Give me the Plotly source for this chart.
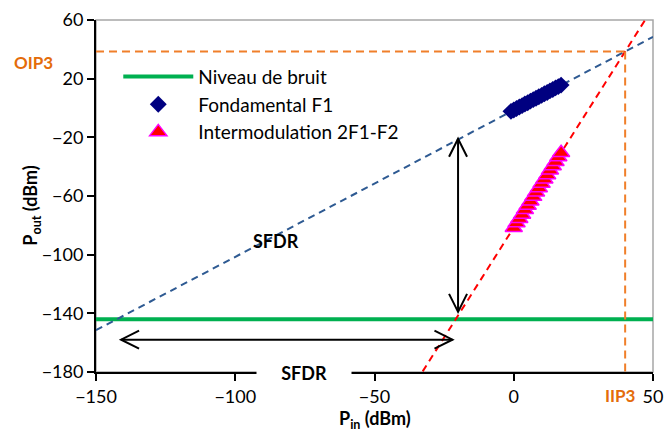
import plotly.graph_objects as go

# Measured two-tone test: fundamental and third-order intermodulation products
fund_pin = [-1, 0, 1, 2, 3, 4, 5, 6, 7, 8, 9, 10, 11, 12, 13, 14, 15, 16, 17]
fund_pout = [-2.3, -1.4, -0.3, 0.7, 1.6, 2.7, 3.6, 4.7, 5.7, 6.6, 7.7, 8.6, 9.7,
             10.6, 11.7, 12.6, 13.7, 14.6, 15.6]

im3_pin = [0, 1, 2, 3, 4, 5, 6, 7, 8, 9, 10, 11, 12, 13, 14, 15, 16, 17]
im3_pout = [-81.6, -78.4, -75.5, -72.6, -69.4, -66.5, -63.6, -60.4, -57.5, -54.6,
            -51.4, -48.5, -45.6, -42.4, -39.5, -36.6, -33.4, -30.5]

# Noise floor
noise_pin = [-150, 50]
noise_pout = [-144, -144]

# Extrapolated asymptotes (slope 1 and slope 3)
fund_line_pin = [-150, 50]
fund_line_pout = [-151.5, 48.5]
im3_line_pin = [-35, 50]
im3_line_pout = [-186.5, 68.5]

# Third-order intercept point
iip3 = 40
oip3 = 38.5

# SFDR arrows (input-referred and output-referred)
sfdr_in_y = -158
sfdr_in_x = [-141, -22]
sfdr_out_x = -20
sfdr_out_y = [-21, -139]

x_range = [-150, 50]
y_range = [-180, 60]
x_ticks = [-150, -100, -50, 0, 50]
y_ticks = [-180, -140, -100, -60, -20, 20, 60]

W, H = 666, 432
M = dict(l=96, r=13, t=20, b=60)
FONT = "Lato"
ORANGE = "#E46C0A"

fig = go.Figure()

fig.add_trace(go.Scatter(x=noise_pin, y=noise_pout, mode="lines",
                         name="Niveau de bruit",
                         line=dict(color="#00B050", width=4)))
fig.add_trace(go.Scatter(x=fund_line_pin, y=fund_line_pout, mode="lines",
                         showlegend=False,
                         line=dict(color="#2E5A92", width=2, dash="7px,5px")))
fig.add_trace(go.Scatter(x=im3_line_pin, y=im3_line_pout, mode="lines",
                         showlegend=False,
                         line=dict(color="#FF0000", width=2, dash="7px,5px")))
fig.add_trace(go.Scatter(x=[x_range[0], iip3], y=[oip3, oip3], mode="lines",
                         showlegend=False,
                         line=dict(color="#F07F2A", width=2, dash="8px,5px")))
fig.add_trace(go.Scatter(x=[iip3, iip3], y=[oip3, y_range[0]], mode="lines",
                         showlegend=False,
                         line=dict(color="#F07F2A", width=2, dash="8px,5px")))
fig.add_trace(go.Scatter(x=fund_pin, y=fund_pout, mode="markers",
                         name="Fondamental F1",
                         marker=dict(symbol="diamond", size=13, color="#000080",
                                     line=dict(width=0))))
fig.add_trace(go.Scatter(x=im3_pin, y=im3_pout, mode="markers",
                         name="Intermodulation 2F1-F2",
                         marker=dict(symbol="triangle-up", size=15, color="#FF0000",
                                     line=dict(color="#FF00FF", width=1.5))))

# pixel -> data unit conversion for arrow heads
plot_w = W - M["l"] - M["r"]
plot_h = H - M["t"] - M["b"]
px_x = plot_w / (x_range[1] - x_range[0])
px_y = plot_h / (y_range[1] - y_range[0])
head_len, head_half = 18, 9

shapes = []
arrow_line = dict(color="black", width=2)
# horizontal double arrow
x0, x1 = sfdr_in_x
shapes.append(dict(type="line", xref="x", yref="y", x0=x0, x1=x1,
                   y0=sfdr_in_y, y1=sfdr_in_y, line=arrow_line))
for tip, d in ((x0, 1), (x1, -1)):
    bx = tip + d * head_len / px_x
    shapes.append(dict(type="path", xref="x", yref="y", line=arrow_line,
                       path=f"M {bx},{sfdr_in_y + head_half / px_y} L {tip},{sfdr_in_y} "
                            f"L {bx},{sfdr_in_y - head_half / px_y}"))
# vertical double arrow
y0, y1 = sfdr_out_y
shapes.append(dict(type="line", xref="x", yref="y", x0=sfdr_out_x, x1=sfdr_out_x,
                   y0=y0, y1=y1, line=arrow_line))
for tip, d in ((y0, -1), (y1, 1)):
    by = tip + d * head_len / px_y
    shapes.append(dict(type="path", xref="x", yref="y", line=arrow_line,
                       path=f"M {sfdr_out_x - head_half / px_x},{by} L {sfdr_out_x},{tip} "
                            f"L {sfdr_out_x + head_half / px_x},{by}"))
# grey plot-area frame (top and right edges)
shapes.append(dict(type="rect", xref="paper", yref="paper", x0=0, x1=1, y0=0, y1=1,
                   line=dict(color="#A6A6A6", width=1.5), layer="below"))

annotations = [
    dict(text="<b>SFDR</b>", x=-85.5, y=-91, xref="x", yref="y", showarrow=False,
         font=dict(family=FONT, size=18, color="black")),
    dict(text="<b>SFDR</b>", x=-75.3, y=-0.004, xref="x", yref="paper",
         xanchor="center", yanchor="middle", showarrow=False,
         bgcolor="white", width=92, height=22,
         font=dict(family=FONT, size=18, color="black")),
    dict(text="<b>OIP3</b>", x=-0.113, y=31, xref="paper", yref="y",
         xanchor="center", yanchor="middle", showarrow=False,
         font=dict(family=FONT, size=17, color=ORANGE)),
    dict(text="<b>IIP3</b>", x=38.2, y=-0.068, xref="x", yref="paper",
         xanchor="center", yanchor="middle", showarrow=False,
         font=dict(family=FONT, size=17, color=ORANGE)),
    # axis titles
    dict(text="<b>P<sub>in</sub> (dBm)</b>", x=0.5, y=-0.136, xref="paper", yref="paper",
         xanchor="center", yanchor="middle", showarrow=False,
         font=dict(family=FONT, size=18, color="black")),
    dict(text="<b>P<sub>out</sub> (dBm)</b>", x=-0.115, y=0.475, xref="paper", yref="paper",
         xanchor="center", yanchor="middle", showarrow=False, textangle=-90,
         font=dict(family=FONT, size=18, color="black")),
]

fig.update_layout(
    width=W, height=H, margin=M,
    paper_bgcolor="white", plot_bgcolor="white",
    font=dict(family=FONT, size=18, color="black"),
    shapes=shapes, annotations=annotations,
    legend=dict(x=0.04, y=0.893, xanchor="left", yanchor="top",
                bgcolor="rgba(0,0,0,0)", itemwidth=70,
                font=dict(family=FONT, size=19, color="black")),
    xaxis=dict(range=x_range, tickvals=x_ticks, showgrid=False, zeroline=False,
               automargin=False,
               showline=True, linecolor="black", linewidth=2,
               ticks="outside", ticklen=7, tickwidth=2, tickcolor="black",
               tickfont=dict(family=FONT, size=18)),
    yaxis=dict(range=y_range, tickvals=y_ticks, showgrid=False, zeroline=False,
               automargin=False,
               showline=True, linecolor="black", linewidth=2,
               ticks="outside", ticklen=7, tickwidth=2, tickcolor="black",
               tickfont=dict(family=FONT, size=18)),
)

fig.write_html("out.html")
